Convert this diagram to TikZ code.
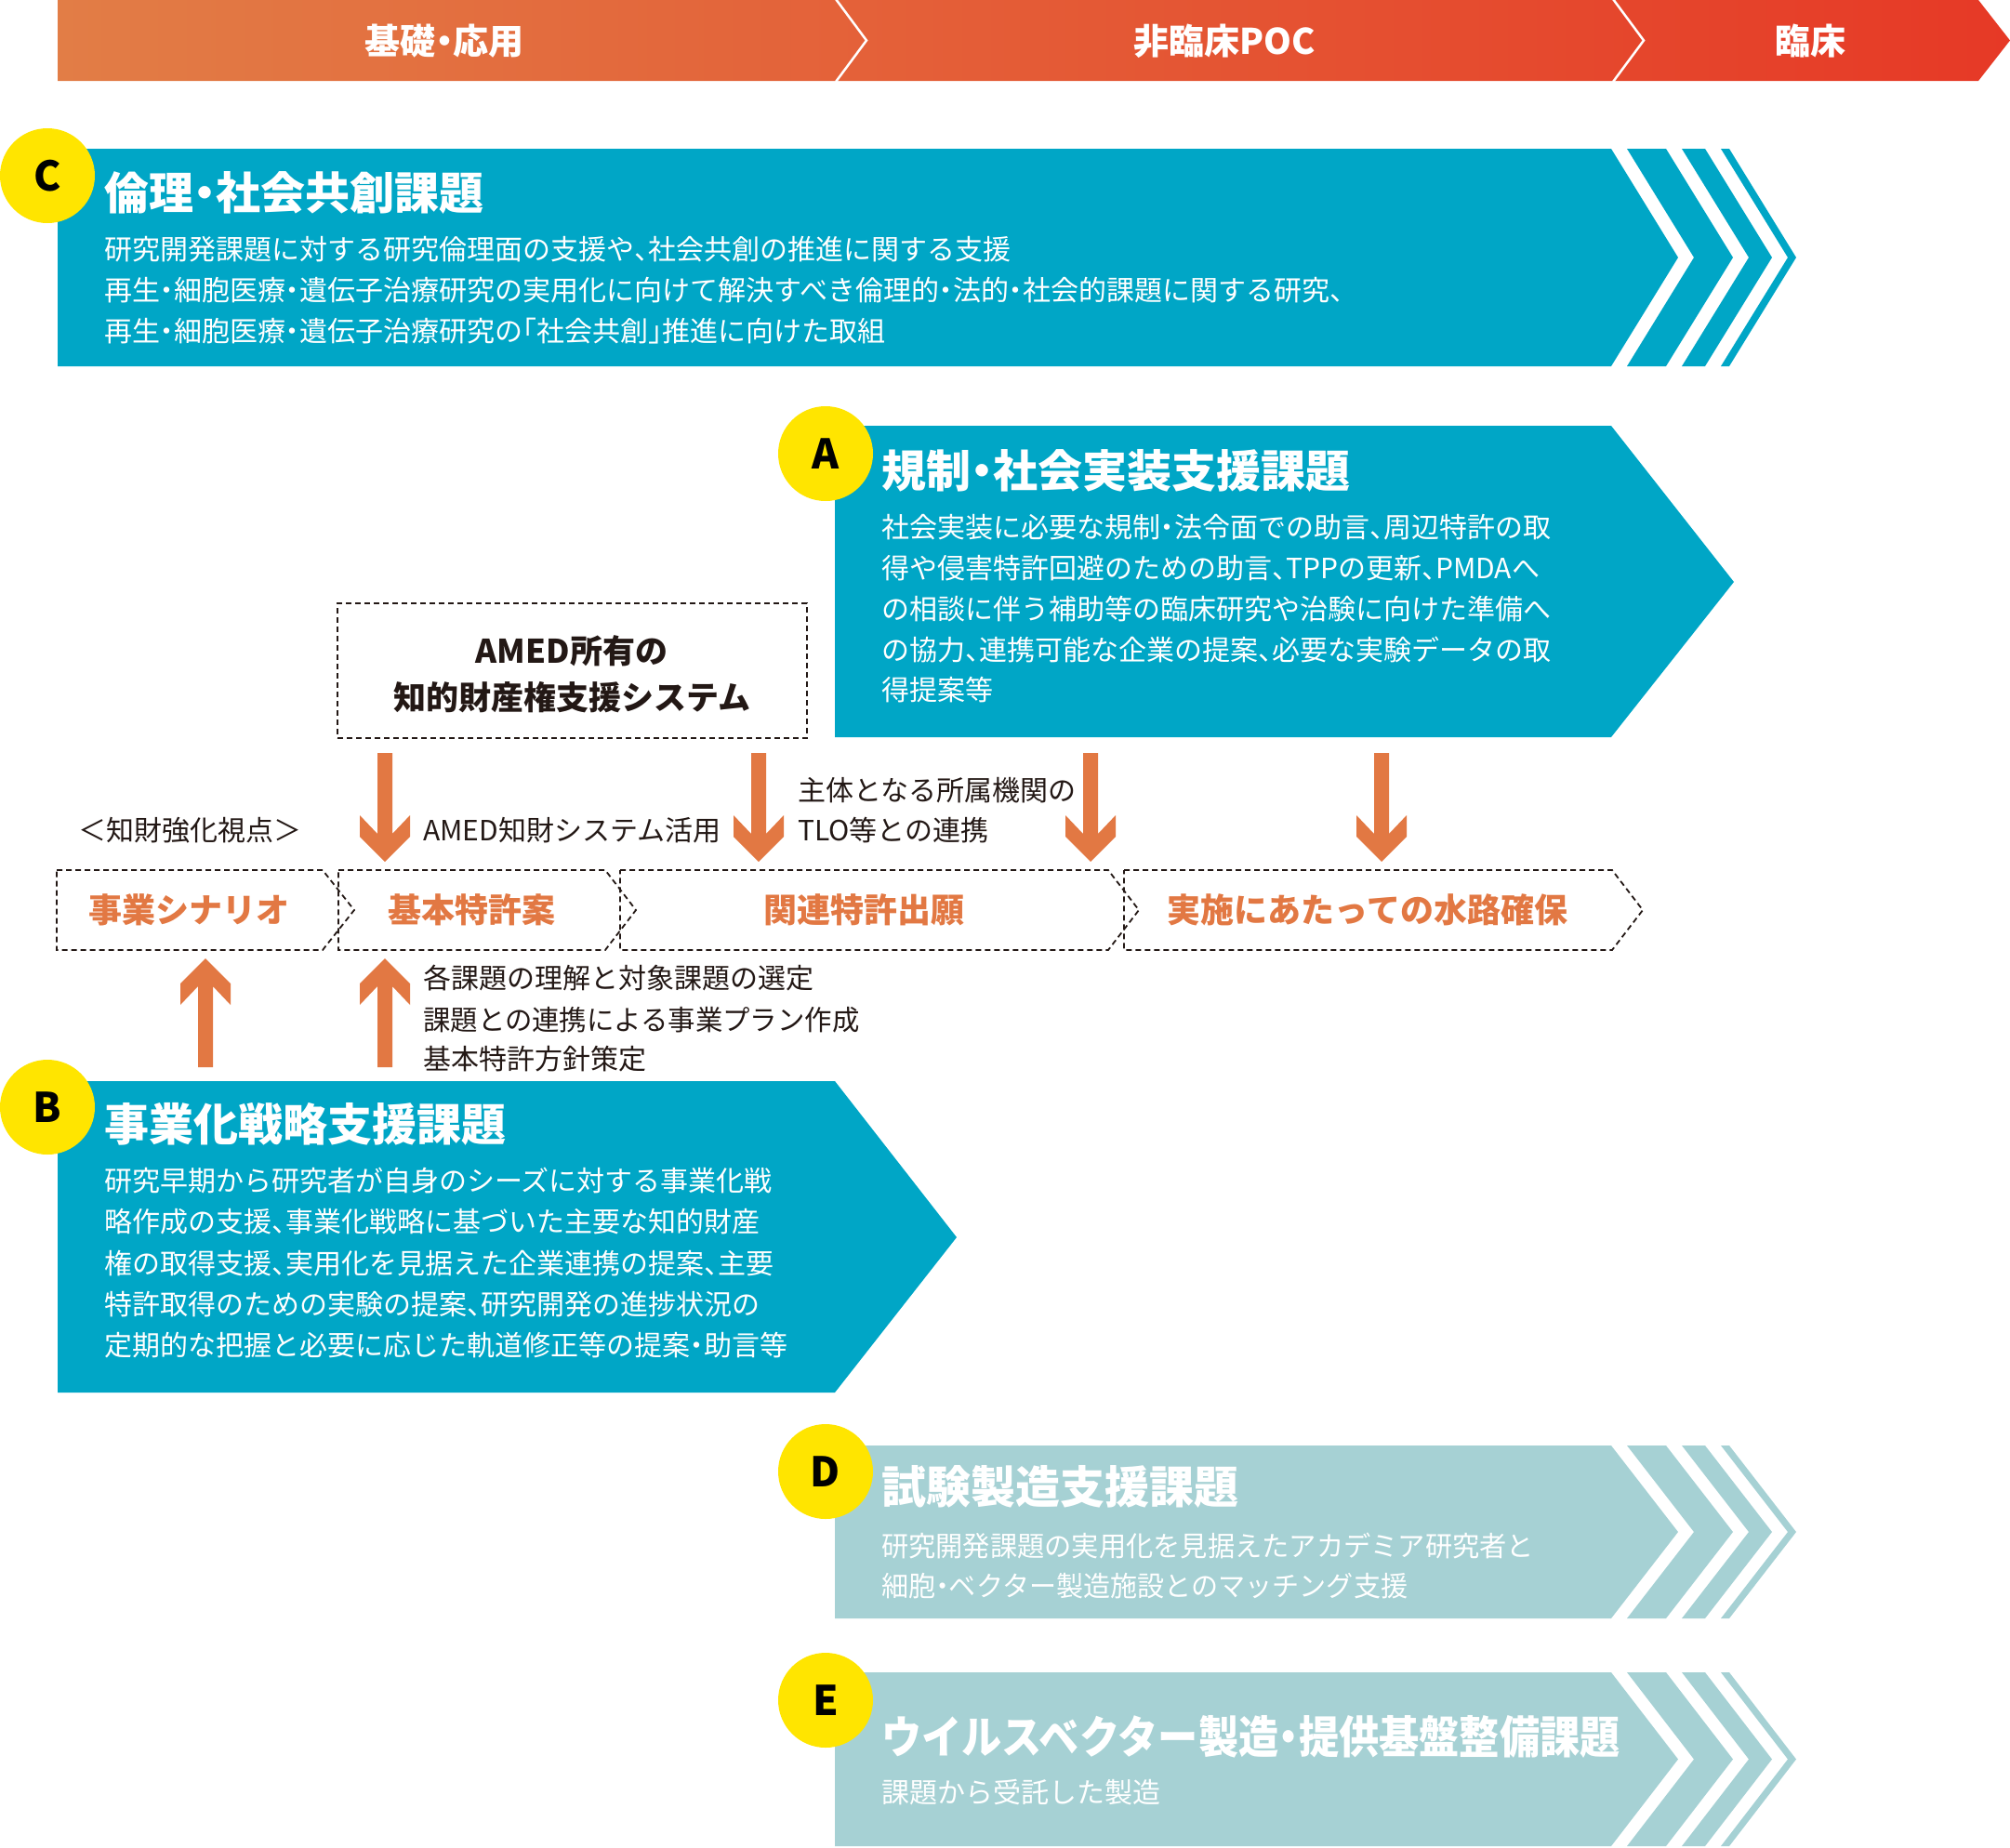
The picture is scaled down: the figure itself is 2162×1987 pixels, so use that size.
\documentclass[tikz,border=0pt]{standalone}
\usepackage{fontspec}
\setmainfont{Noto Sans CJK JP}
\definecolor{tealA}{RGB}{0,166,198}
\definecolor{tealB}{RGB}{166,209,212}
\definecolor{orgC}{RGB}{226,120,67}
\definecolor{yelC}{RGB}{255,229,0}
\definecolor{darkC}{RGB}{35,24,21}
\definecolor{banL}{RGB}{226,125,70}
\definecolor{banR}{RGB}{230,57,38}
\newcommand\nkg{\makebox[0.5em][c]{・}}
\newcommand\tten{\makebox[0.5em][l]{、}}
\newcommand\kgl{\makebox[0.5em][r]{「}}
\newcommand\kgr{\makebox[0.5em][l]{」}}
\newcommand\multichev[4]{%
  \pgfmathsetmacro\chevmid{(#3+#4)/2}%
  \fill[#1] (#2,#3) -- (1733,#3) -- (1805,\chevmid) -- (1733,#4) -- (#2,#4) -- cycle;
  \fill[#1] (1750,#3) -- (1792,#3) -- (1864,\chevmid) -- (1792,#4) -- (1750,#4) -- (1822,\chevmid) -- cycle;
  \fill[#1] (1809,#3) -- (1834,#3) -- (1906,\chevmid) -- (1834,#4) -- (1809,#4) -- (1881,\chevmid) -- cycle;
  \fill[#1] (1851,#3) -- (1860,#3) -- (1932,\chevmid) -- (1860,#4) -- (1851,#4) -- (1923,\chevmid) -- cycle;
}
\begin{document}
\begin{tikzpicture}[x=1pt,y=-1pt,
  bantext/.style={text=white, font=\fontsize{38}{40}\selectfont\bfseries, anchor=base, inner sep=0},
  ttl/.style={text=white, font=\fontsize{48}{50}\selectfont\bfseries, anchor=base west, inner sep=0},
  bodytxt/.style={text=white, font=\fontsize{30}{44}\selectfont, anchor=base west, inner sep=0},
  labtxt/.style={text=darkC, font=\fontsize{30}{44}\selectfont, anchor=base west, inner sep=0},
  steptxt/.style={text=orgC, font=\fontsize{36}{40}\selectfont\bfseries, anchor=base, inner sep=0},
  amedtxt/.style={text=darkC, font=\fontsize{35}{40}\selectfont\bfseries, anchor=base, inner sep=0},
  circ/.style={circle, fill=yelC, minimum size=102, inner sep=0, text=black, font=\fontsize{44}{44}\selectfont\bfseries},
  dashbox/.style={draw=darkC, line width=1.8, dash pattern=on 6pt off 4pt},
  darrow/.pic={\fill[orgC] (0,0) -- (-27,-27) -- (-27,-50) -- (-8,-30) -- (-8,-117) -- (8,-117) -- (8,-30) -- (27,-50) -- (27,-27) -- cycle;}
]
\useasboundingbox (0,0) rectangle (2162,1987);

% ---- banner
\shade[left color=banL, right color=banR] (62,0) -- (2128,0) -- (2162,43.5) -- (2128,87) -- (62,87) -- cycle;
\draw[white, line width=2.5] (899,-1) -- (932,43.5) -- (899,88);
\draw[white, line width=2.5] (1735,-1) -- (1768,43.5) -- (1735,88);
\node[bantext] (b1) at (478,58) {基礎\nkg 応用};
\node[bantext] (b2) at (1317,58) {非臨床POC};
\node[bantext] (b3) at (1947,58) {臨床};

% ---- C
\multichev{tealA}{62}{160}{394}
\node[ttl] (ct) at (112,225) {倫理\nkg 社会共創課題};
\node[bodytxt] (c1) at (112,279) {研究開発課題に対する研究倫理面の支援や\tten 社会共創の推進に関する支援};
\node[bodytxt] (c2) at (112,323) {再生\nkg 細胞医療\nkg 遺伝子治療研究の実用化に向けて解決すべき倫理的\nkg 法的\nkg 社会的課題に関する研究\tten};
\node[bodytxt] (c3) at (112,367) {再生\nkg 細胞医療\nkg 遺伝子治療研究の\kgl 社会共創\kgr 推進に向けた取組};
\node[circ] (cc) at (51,189) {C};

% ---- A
\fill[tealA] (898,458) -- (1733,458) -- (1865,626) -- (1733,793) -- (898,793) -- cycle;
\node[ttl] (at) at (948,524) {規制\nkg 社会実装支援課題};
\node[bodytxt] (a1) at (948,578) {社会実装に必要な規制\nkg 法令面での助言\tten 周辺特許の取};
\node[bodytxt] (a2) at (948,622) {得や侵害特許回避のための助言\tten TPPの更新\tten PMDAへ};
\node[bodytxt] (a3) at (948,666) {の相談に伴う補助等の臨床研究や治験に向けた準備へ};
\node[bodytxt] (a4) at (948,710) {の協力\tten 連携可能な企業の提案\tten 必要な実験データの取};
\node[bodytxt] (a5) at (948,753) {得提案等};
\node[circ] (ca) at (888,488) {A};

% ---- AMED box
\node[dashbox, minimum width=505, minimum height=145, inner sep=0] (amedbox) at (615.5,721.5) {};
\node[amedtxt] (am1) at (615,713) {AMED所有の};
\node[amedtxt] (am2) at (615,763) {知的財産権支援システム};

% ---- labels
\node[labtxt] (l1) at (84,904) {＜知財強化視点＞};
\node[labtxt] (l2) at (455,904) {AMED知財システム活用};
\node[labtxt] (l3) at (858,861) {主体となる所属機関の};
\node[labtxt] (l4) at (858,904) {TLO等との連携};
\node[labtxt] (l5) at (455,1063) {各課題の理解と対象課題の選定};
\node[labtxt] (l6) at (455,1108) {\scalebox{0.98}[1]{課題との連携による事業プラン作成}};
\node[labtxt] (l7) at (455,1150) {基本特許方針策定};

% ---- arrows
\pic at (414,927) {darrow};
\pic at (816,927) {darrow};
\pic at (1173,927) {darrow};
\pic at (1486,927) {darrow};
\pic[rotate=180] at (221,1031) {darrow};
\pic[rotate=180] at (414,1031) {darrow};

% ---- step chevrons
\draw[dashbox] (61,936) -- (347,936) -- (381,979) -- (347,1022) -- (61,1022) -- cycle;
\draw[dashbox] (364,936) -- (651,936) -- (684,979) -- (651,1022) -- (364,1022) -- cycle;
\draw[dashbox] (667,936) -- (1192,936) -- (1225,979) -- (1192,1022) -- (667,1022) -- cycle;
\draw[dashbox] (1209,936) -- (1734,936) -- (1767,979) -- (1734,1022) -- (1209,1022) -- cycle;
\node[steptxt] (s1) at (203,992) {事業シナリオ};
\node[steptxt] (s2) at (507,992) {基本特許案};
\node[steptxt] (s3) at (929,992) {関連特許出願};
\node[steptxt] (s4) at (1471,992) {実施にあたっての水路確保};

% ---- B
\fill[tealA] (62,1163) -- (898,1163) -- (1029,1331) -- (898,1498) -- (62,1498) -- cycle;
\node[ttl] (bt) at (112,1227) {事業化戦略支援課題};
\node[bodytxt] (bb1) at (112,1281) {研究早期から研究者が自身のシーズに対する事業化戦};
\node[bodytxt] (bb2) at (112,1325) {略作成の支援\tten 事業化戦略に基づいた主要な知的財産};
\node[bodytxt] (bb3) at (112,1370) {権の取得支援\tten 実用化を見据えた企業連携の提案\tten 主要};
\node[bodytxt] (bb4) at (112,1414) {特許取得のための実験の提案\tten 研究開発の進捗状況の};
\node[bodytxt] (bb5) at (112,1458) {定期的な把握と必要に応じた軌道修正等の提案\nkg 助言等};
\node[circ] (cb) at (51,1191) {B};

% ---- D
\multichev{tealB}{898}{1555}{1741}
\node[ttl] (dt) at (948,1617) {試験製造支援課題};
\node[bodytxt] (d1) at (948,1674) {\scalebox{0.975}[1]{研究開発課題の実用化を見据えたアカデミア研究者と}};
\node[bodytxt] (d2) at (948,1717) {\scalebox{0.97}[1]{細胞\nkg ベクター製造施設とのマッチング支援}};
\node[circ] (cd) at (888,1583) {D};

% ---- E
\multichev{tealB}{898}{1799}{1986}
\node[ttl] (et) at (948,1886) {\scalebox{0.9}[1]{ウイルスベクター製造\nkg 提供基盤整備課題}};
\node[bodytxt] (e1) at (948,1939) {課題から受託した製造};
\node[circ] (ce) at (888,1829) {E};
\end{tikzpicture}
\end{document}
